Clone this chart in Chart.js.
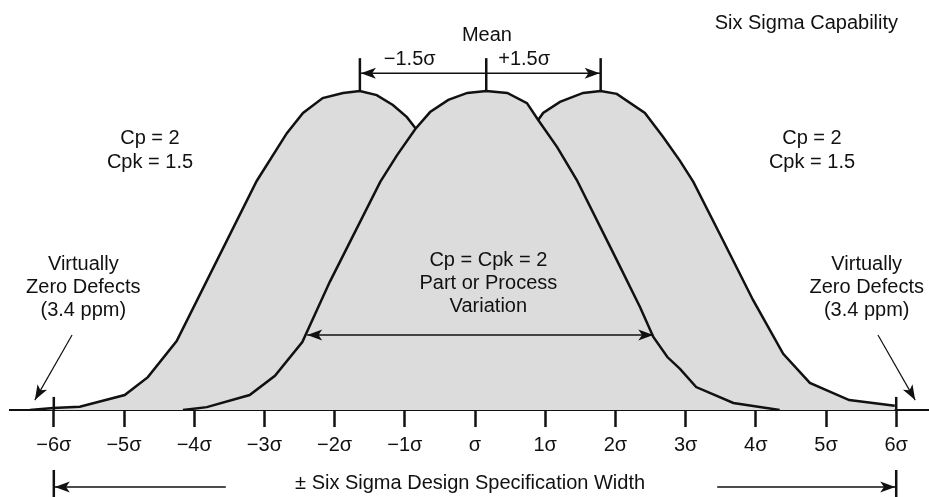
<!DOCTYPE html>
<html>
<head>
<meta charset="utf-8">
<title>Six Sigma Capability</title>
<script src="https://cdn.jsdelivr.net/npm/chart.js@4.4.1/dist/chart.umd.min.js"></script>
<style>
  html, body { margin: 0; padding: 0; background: #fff; }
  #wrap { position: relative; width: 929px; height: 497px; }
</style>
</head>
<body>
<div id="wrap"><canvas id="sixSigmaChart"></canvas></div>
<script>
// x in sigma units, level = height relative to the peak (1 = peak)
const sigmaTicks  = [-6, -5, -4, -3, -2, -1, 0, 1, 2, 3, 4, 5, 6];
const tickLabels  = ['\u22126\u03c3', '\u22125\u03c3', '\u22124\u03c3', '\u22123\u03c3', '\u22122\u03c3', '\u22121\u03c3',
                     '\u03c3', '1\u03c3', '2\u03c3', '3\u03c3', '4\u03c3', '5\u03c3', '6\u03c3'];

// centred process (Cp = Cpk = 2)
const centerSigma = [-4.16, -3.82, -3.21, -2.85, -2.46, -2.07, -1.35, -1.11, -0.85, -0.64, -0.38, -0.11, 0.16,
                     0.46, 0.74, 0.90, 1.17, 1.45, 2.02, 2.35, 2.54, 2.74, 2.92, 3.15, 3.68, 4.34];
const centerLevel = [0, 0.009, 0.047, 0.107, 0.213, 0.401, 0.715, 0.799, 0.881, 0.934, 0.972, 0.994, 1.0,
                     0.994, 0.962, 0.909, 0.824, 0.721, 0.470, 0.323, 0.229, 0.166, 0.129, 0.072, 0.022, 0];

// shifted -1.5 sigma (Cpk = 1.5)
const leftSigma   = [-6.34, -6.01, -5.63, -4.99, -4.66, -4.25, -3.11, -2.68, -2.45, -2.17, -1.88, -1.64,
                     -1.40, -1.17, -0.97, -0.84, -0.60, -0.17, 0.97, 1.38, 1.71, 2.35, 2.74, 3.06];
const leftLevel   = [0, 0.006, 0.010, 0.047, 0.103, 0.216, 0.718, 0.868, 0.931, 0.978, 0.994, 1.0,
                     0.987, 0.956, 0.918, 0.881, 0.868, 0.718, 0.216, 0.103, 0.047, 0.010, 0.006, 0];

// shifted +1.5 sigma (Cpk = 1.5)
const rightSigma  = [-2.49, -2.39, -1.74, -1.18, -0.80, -0.37, 0.06, 0.48, 0.88, 0.97, 1.21, 1.54, 1.79,
                     2.02, 2.42, 2.68, 2.92, 3.11, 3.53, 3.96, 4.39, 4.77, 5.33, 5.98];
const rightLevel  = [0, 0.013, 0.031, 0.085, 0.176, 0.345, 0.533, 0.715, 0.903, 0.931, 0.966, 0.994, 1.0,
                     0.991, 0.931, 0.856, 0.781, 0.715, 0.533, 0.345, 0.176, 0.085, 0.031, 0.013];

const FILL  = '#dcdcdc';
const INK   = '#111';
const FONT  = '"Liberation Sans", Arial, Helvetica, sans-serif';

Chart.defaults.font.family = FONT;

const toPoints = (xs, ys) => xs.map((v, i) => ({ x: v, y: ys[i] }));
const peakOf   = (xs, ys) => xs[ys.indexOf(Math.max(...ys))];

function curve(label, xs, ys) {
  return {
    label,
    data: toPoints(xs, ys),
    borderColor: INK,
    borderWidth: 2.5,
    backgroundColor: FILL,
    fill: 'origin',
    pointRadius: 0,
    tension: 0,
  };
}

function arrowHead(ctx, x0, y0, x1, y1, len, half) {
  const a = Math.atan2(y1 - y0, x1 - x0);
  const c = Math.cos(a), s = Math.sin(a);
  ctx.beginPath();
  ctx.moveTo(x1, y1);
  ctx.lineTo(x1 - len * c + half * s, y1 - len * s - half * c);
  ctx.lineTo(x1 - len * 0.75 * c, y1 - len * 0.75 * s);
  ctx.lineTo(x1 - len * c - half * s, y1 - len * s + half * c);
  ctx.closePath();
  ctx.fill();
}

function arrow(ctx, x0, y0, x1, y1, width) {
  ctx.lineWidth = width;
  ctx.beginPath();
  ctx.moveTo(x0, y0);
  ctx.lineTo(x1, y1);
  ctx.stroke();
  arrowHead(ctx, x0, y0, x1, y1, 15, 5.5);
}

function bar(ctx, x, y0, y1, width) {
  ctx.lineWidth = width;
  ctx.beginPath();
  ctx.moveTo(x, y0);
  ctx.lineTo(x, y1);
  ctx.stroke();
}

function textLines(ctx, lines, x, y0, step) {
  lines.forEach((t, i) => ctx.fillText(t, x, y0 + i * step));
}

const annotations = {
  id: 'annotations',
  afterDatasetsDraw(chart) {
    const { ctx, scales: { x, y } } = chart;
    const X = v => x.getPixelForValue(v);
    const Y = v => y.getPixelForValue(v);

    ctx.save();
    ctx.strokeStyle = INK;
    ctx.fillStyle = INK;
    ctx.lineCap = 'butt';

    // taller marks at the spec limits
    bar(ctx, X(-6), Y(0), Y(0.041), 2.5);
    bar(ctx, X(6),  Y(0), Y(0.041), 2.5);

    // mean markers and the +-1.5 sigma shift arrow
    const means = [peakOf(leftSigma, leftLevel), peakOf(centerSigma, centerLevel), peakOf(rightSigma, rightLevel)];
    means.forEach(m => bar(ctx, X(m), Y(1.0), Y(1.103), 2.5));
    const ya = Y(1.056);
    ctx.lineWidth = 1.5;
    ctx.beginPath();
    ctx.moveTo(X(means[0]), ya);
    ctx.lineTo(X(means[2]), ya);
    ctx.stroke();
    arrowHead(ctx, X(means[1]), ya, X(means[0]) + 1, ya, 15, 5.5);
    arrowHead(ctx, X(means[1]), ya, X(means[2]) - 1, ya, 15, 5.5);

    // variation arrow inside the centred curve
    const yv = Y(0.235);
    ctx.lineWidth = 1.5;
    ctx.beginPath();
    ctx.moveTo(X(-2.39), yv);
    ctx.lineTo(X(2.54), yv);
    ctx.stroke();
    arrowHead(ctx, X(0), yv, X(-2.39), yv, 15, 5.5);
    arrowHead(ctx, X(0), yv, X(2.54), yv, 15, 5.5);

    // "virtually zero defects" pointers
    arrow(ctx, X(-5.74), Y(0.235), X(-6.27), Y(0.031), 1.2);
    arrow(ctx, X(5.74),  Y(0.235), X(6.27),  Y(0.031), 1.2);

    // spec width arrows below the axis
    bar(ctx, X(-6), Y(-0.188), Y(-0.28), 2.5);
    bar(ctx, X(6),  Y(-0.188), Y(-0.28), 2.5);
    arrow(ctx, X(-3.55), Y(-0.241), X(-6) + 1, Y(-0.241), 1.5);
    arrow(ctx, X(3.45),  Y(-0.241), X(6) - 1,  Y(-0.241), 1.5);

    // texts
    ctx.font = `20px ${FONT}`;
    ctx.textAlign = 'center';
    ctx.textBaseline = 'middle';
    ctx.fillText('Six Sigma Capability', X(4.72), Y(1.213));
    ctx.fillText('Mean', X(0.17), Y(1.175));
    ctx.fillText('\u22121.5\u03c3', X(-0.93), Y(1.100));
    ctx.fillText('+1.5\u03c3', X(0.70), Y(1.100));

    textLines(ctx, ['Cp = 2', 'Cpk = 1.5'], X(-4.63), Y(0.850), 24);
    textLines(ctx, ['Cp = 2', 'Cpk = 1.5'], X(4.80),  Y(0.850), 24);
    textLines(ctx, ['Virtually', 'Zero Defects', '(3.4 ppm)'], X(-5.58), Y(0.455), 23);
    textLines(ctx, ['Virtually', 'Zero Defects', '(3.4 ppm)'], X(5.58),  Y(0.455), 23);
    textLines(ctx, ['Cp = Cpk = 2', 'Part or Process', 'Variation'], X(0.19), Y(0.470), 23);

    ctx.fillText('\u00b1 Six Sigma Design Specification Width', X(-0.07), Y(-0.229));
    ctx.restore();
  }
};

new Chart(document.getElementById('sixSigmaChart'), {
  type: 'line',
  data: {
    datasets: [
      // first dataset is painted last, so the centred curve sits on top
      curve('Centred', centerSigma, centerLevel),
      curve('Shift -1.5\u03c3', leftSigma, leftLevel),
      curve('Shift +1.5\u03c3', rightSigma, rightLevel),
    ],
  },
  options: {
    responsive: true,
    maintainAspectRatio: false,
    animation: false,
    layout: { padding: { left: 10, right: 0, top: 0, bottom: 0 } },
    plugins: {
      legend: { display: false },
      tooltip: { enabled: false },
      filler: { drawTime: 'beforeDatasetDraw' },
    },
    scales: {
      x: {
        type: 'linear',
        min: -6.624,
        max: 6.467,
        afterBuildTicks: s => { s.ticks = sigmaTicks.map(v => ({ value: v })); },
        afterFit: s => { s.height = 87; },
        ticks: {
          autoSkip: false,
          maxRotation: 0,
          padding: 6,
          color: INK,
          font: { size: 20 },
          callback: v => tickLabels[sigmaTicks.indexOf(v)],
        },
        grid: {
          drawOnChartArea: false,
          drawTicks: true,
          tickLength: 17,
          tickWidth: 2.5,
          tickColor: INK,
        },
        border: { display: true, color: INK, width: 2 },
      },
      y: {
        display: false,
        min: 0,
        max: 1.2853,
      },
    },
  },
  plugins: [annotations],
});
</script>
</body>
</html>
